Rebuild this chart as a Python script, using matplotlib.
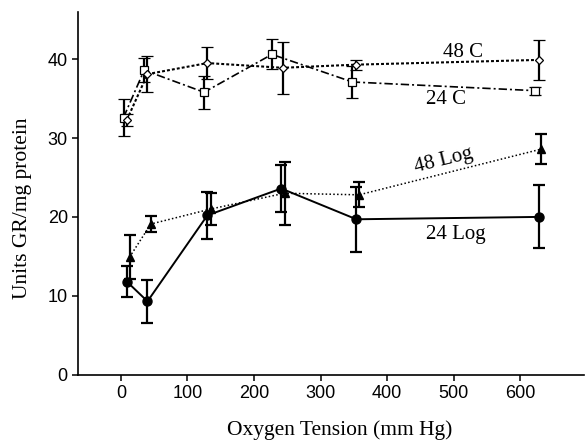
import matplotlib
matplotlib.use("Agg")
import matplotlib.pyplot as plt

# datos
x_24c = [4, 35, 125, 227, 348, 623]
y_24c = [32.6, 38.6, 35.8, 40.6, 37.1, 36.0]
e_24c = [2.4, 1.5, 2.1, 1.9, 2.0, 0.5]

x_48c = [9, 40, 130, 243, 354, 628]
y_48c = [32.3, 38.1, 39.5, 38.9, 39.3, 39.9]
e_48c = [0.8, 2.3, 2.0, 3.3, 0.65, 2.5]

x_24log = [9, 40, 130, 241, 354, 628]
y_24log = [11.8, 9.3, 20.2, 23.6, 19.7, 20.0]
e_24log = [2.0, 2.7, 3.0, 3.0, 4.1, 4.0]

x_48log = [13, 45, 135, 246, 358, 632]
y_48log = [14.9, 19.1, 21.0, 23.0, 22.8, 28.6]
e_48log = [2.8, 1.0, 2.0, 4.0, 1.6, 1.9]

serif = ["Liberation Serif", "DejaVu Serif"]
sans = ["Liberation Sans", "DejaVu Sans"]

fig = plt.figure(figsize=(5.86, 4.41), dpi=100)
ax = fig.add_axes([0.1336, 0.1503, 0.863, 0.823])

err_kw = dict(color="black", ecolor="black", elinewidth=1.6, capsize=4, capthick=1.6)

ax.errorbar(x_24c, y_24c, yerr=e_24c, marker="s", ms=5.5, mfc="white", mec="black",
            mew=0.9, linestyle=(0, (5, 1.8, 1.2, 1.8)), lw=1.2, zorder=3, **err_kw)
ax.errorbar(x_48c, y_48c, yerr=e_48c, marker="D", ms=4.5, mfc="white", mec="black",
            mew=0.9, linestyle=(0, (1.4, 1.0)), lw=1.5, zorder=3, **err_kw)
ax.errorbar(x_24log, y_24log, yerr=e_24log, marker="o", ms=6.5, mfc="black", mec="black",
            linestyle="-", lw=1.4, zorder=3, **err_kw)
ax.errorbar(x_48log, y_48log, yerr=e_48log, marker="^", ms=6, mfc="black", mec="black",
            linestyle=(0, (1, 1.5)), lw=1.1, zorder=3, **err_kw)

ax.text(514, 40.9, "48 C", family=serif, fontsize=15, ha="center", va="center")
ax.text(488, 34.9, "24 C", family=serif, fontsize=15, ha="center", va="center")
ax.text(485, 27.1, "48 Log", family=serif, fontsize=15, ha="center", va="center", rotation=14)
ax.text(504, 17.75, "24 Log", family=serif, fontsize=15, ha="center", va="center")

ax.set_xlim(-64, 696)
ax.set_ylim(0, 46)
ax.set_xticks([0, 100, 200, 300, 400, 500, 600])
ax.set_yticks([0, 10, 20, 30, 40])
for s in ["top", "right"]:
    ax.spines[s].set_visible(False)
for s in ["left", "bottom"]:
    ax.spines[s].set_linewidth(1.2)
ax.tick_params(direction="out", length=4, width=1.1, labelsize=13)
for lab in ax.get_xticklabels() + ax.get_yticklabels():
    lab.set_family(sans)

ax.set_xlabel("Oxygen Tension (mm Hg)", family=serif, fontsize=15.5, va="center")
ax.set_ylabel("Units GR/mg protein", family=serif, fontsize=15.5, va="center")
ax.xaxis.set_label_coords(0.5175, -0.152)
ax.yaxis.set_label_coords(-0.11, 0.459)

fig.savefig("out.png", dpi=100)
